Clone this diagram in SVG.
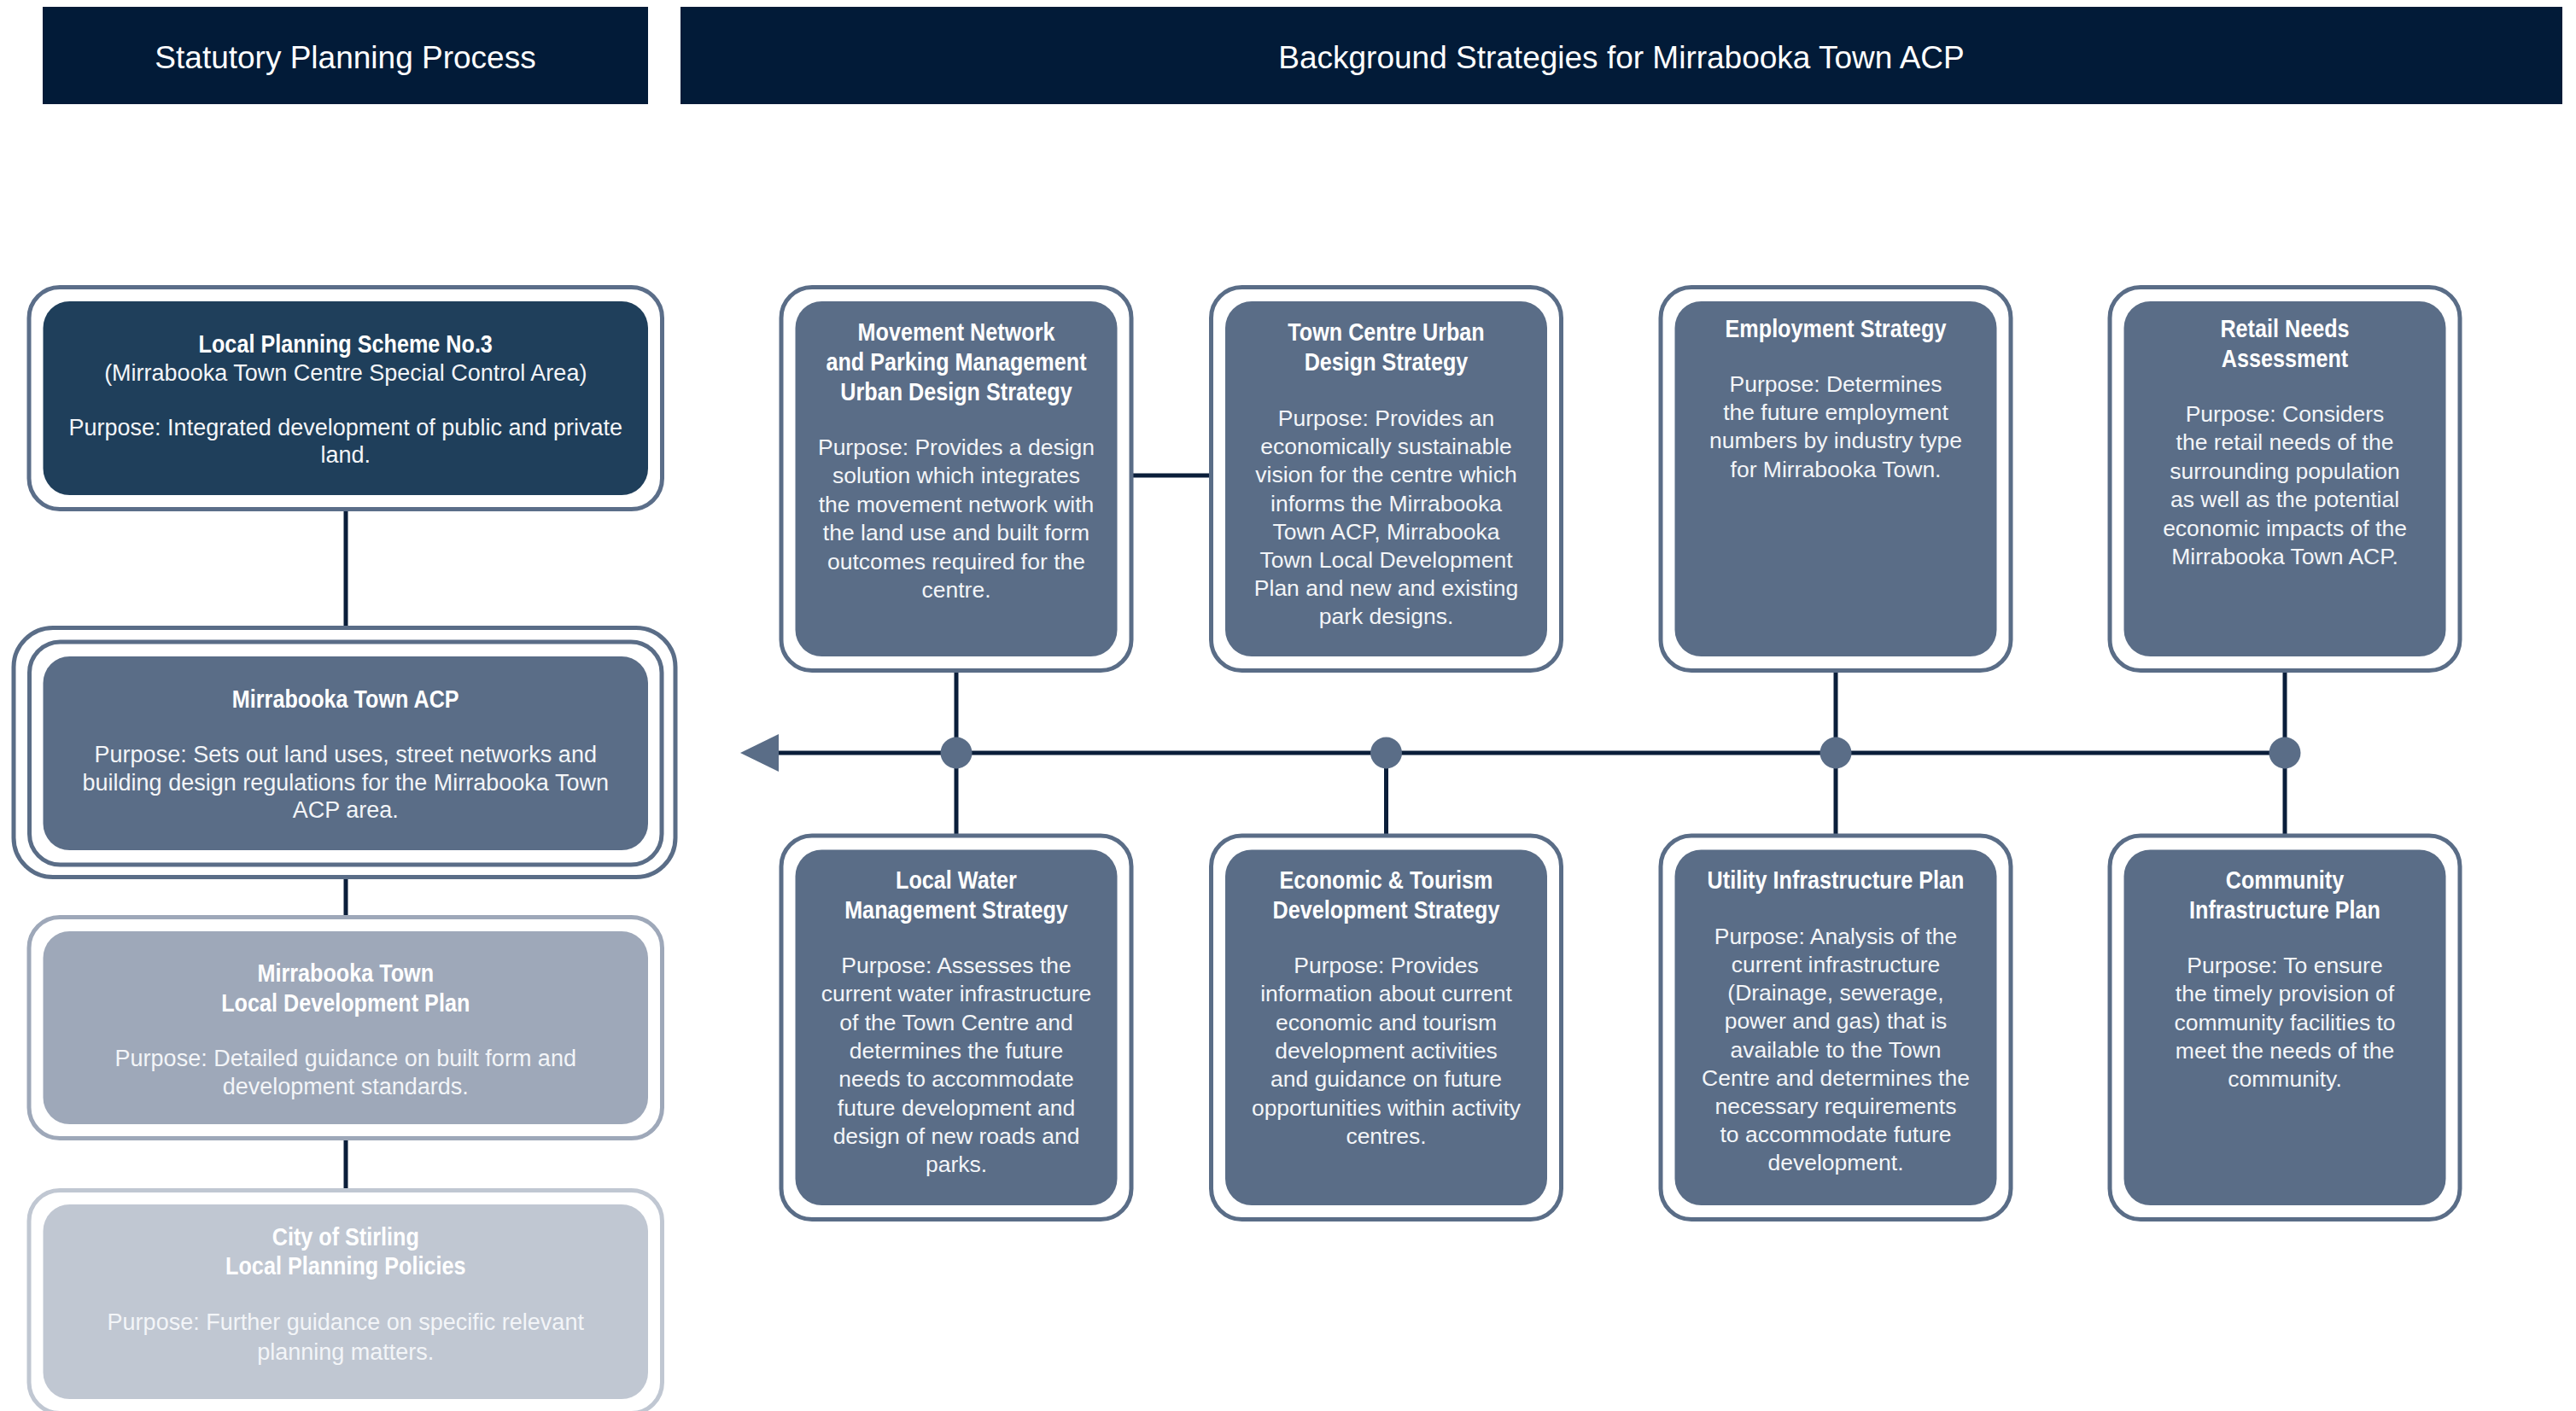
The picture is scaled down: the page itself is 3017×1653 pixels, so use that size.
<svg xmlns="http://www.w3.org/2000/svg" width="3017" height="1653" viewBox="0 0 3017 1653">
<style>
.bg{fill:#ffffff}
.hdr{fill:#021b38}
.ht{font-family:"Liberation Sans",Arial,sans-serif;font-size:37px;fill:#ffffff;text-anchor:middle}
.ring{fill:#ffffff;stroke-width:5}
.t{font-family:"Liberation Sans",Arial,sans-serif;font-weight:bold;font-size:30px;fill:#ffffff;text-anchor:middle}
.b{font-family:"Liberation Sans",Arial,sans-serif;font-size:26.5px;fill:#f3f5f8;text-anchor:middle}
.bl{font-size:27px}
.ln{stroke:#0a1e3a;stroke-width:5;fill:none}
.mark{fill:#5a6d87}
.dark{fill:#1f3f5b}
.mid{fill:#5a6d87}
.ldp{fill:#9ea8b9}
.pol{fill:#c0c7d2}
</style>
<rect class="bg" x="0" y="0" width="3017" height="1653"/>

<g id="header-statutory">
<rect class="hdr" x="50" y="8" width="709" height="114"/>
<text class="ht" x="404.5" y="80">Statutory Planning Process</text>
</g>
<g id="header-background">
<rect class="hdr" x="797" y="8" width="2204" height="114"/>
<text class="ht" x="1899" y="80">Background Strategies for Mirrabooka Town ACP</text>
</g>

<g id="connectors">
<line class="ln" x1="405" y1="597" x2="405" y2="736"/>
<line class="ln" x1="405" y1="1028" x2="405" y2="1074"/>
<line class="ln" x1="405" y1="1336" x2="405" y2="1394"/>
<line class="ln" x1="1325" y1="557" x2="1420" y2="557"/>
<line class="ln" x1="905" y1="882" x2="2676" y2="882"/>
<line class="ln" x1="1120" y1="786" x2="1120" y2="979"/>
<line class="ln" x1="1623.5" y1="882" x2="1623.5" y2="979"/>
<line class="ln" x1="2150" y1="786" x2="2150" y2="979"/>
<line class="ln" x1="2676" y1="786" x2="2676" y2="979"/>
<polygon class="mark" points="867,882 912,860 912,904"/>
<circle class="mark" cx="1120" cy="882" r="18.5"/>
<circle class="mark" cx="1623.5" cy="882" r="18.5"/>
<circle class="mark" cx="2150" cy="882" r="18.5"/>
<circle class="mark" cx="2676" cy="882" r="18.5"/>
</g>

<g id="node-lps">
<rect class="ring" x="34" y="336.5" width="741.5" height="260" rx="36" stroke="#5b6e89"/>
<rect class="dark" x="50.5" y="353" width="708.5" height="227" rx="31"/>
<g transform="translate(404.75,0)">
<g transform="scale(0.84,1)">
<text class="t" x="0" y="413">Local Planning Scheme No.3</text>
</g>
<text class="b bl" x="0" y="446">(Mirrabooka Town Centre Special Control Area)</text>
<text class="b bl" x="0" y="510">Purpose: Integrated development of public and private</text>
<text class="b bl" x="0" y="542">land.</text>
</g>
</g>

<g id="node-acp">
<rect class="ring" x="16" y="735.5" width="775" height="292" rx="46" stroke="#5a6d87" stroke-width="2.5"/>
<rect class="ring" x="34.5" y="752" width="740.5" height="261" rx="36" stroke="#5a6d87"/>
<rect class="mid" x="50.5" y="769" width="708.5" height="227" rx="31"/>
<g transform="translate(404.75,0)">
<g transform="scale(0.84,1)">
<text class="t" x="0" y="829">Mirrabooka Town ACP</text>
</g>
<text class="b bl" x="0" y="893">Purpose: Sets out land uses, street networks and</text>
<text class="b bl" x="0" y="926">building design regulations for the Mirrabooka Town</text>
<text class="b bl" x="0" y="958">ACP area.</text>
</g>
</g>

<g id="node-ldp">
<rect class="ring" x="34" y="1074.5" width="741.5" height="259" rx="36" stroke="#9ea8b9"/>
<rect class="ldp" x="50.5" y="1091" width="708.5" height="226" rx="31"/>
<g transform="translate(404.75,0)">
<g transform="scale(0.84,1)">
<text class="t" x="0" y="1150">Mirrabooka Town</text>
<text class="t" x="0" y="1185">Local Development Plan</text>
</g>
<text class="b bl" x="0" y="1249">Purpose: Detailed guidance on built form and</text>
<text class="b bl" x="0" y="1282">development standards.</text>
</g>
</g>

<g id="node-policies">
<rect class="ring" x="34" y="1394.5" width="741.5" height="261" rx="36" stroke="#c0c7d2"/>
<rect class="pol" x="50.5" y="1411" width="708.5" height="228" rx="31"/>
<g transform="translate(404.75,0)">
<g transform="scale(0.84,1)">
<text class="t" x="0" y="1459">City of Stirling</text>
<text class="t" x="0" y="1493">Local Planning Policies</text>
</g>
<text class="b bl" x="0" y="1558">Purpose: Further guidance on specific relevant</text>
<text class="b bl" x="0" y="1593">planning matters.</text>
</g>
</g>

<g id="node-movement">
<rect class="ring" x="915" y="336.5" width="410" height="449" rx="36" stroke="#5a6d87"/>
<rect class="mid" x="931.5" y="353" width="377" height="416" rx="31"/>
<g transform="translate(1120,0)">
<g transform="scale(0.84,1)">
<text class="t" x="0" y="399">Movement Network</text>
<text class="t" x="0" y="434">and Parking Management</text>
<text class="t" x="0" y="469">Urban Design Strategy</text>
</g>
<text class="b" x="0" y="533">Purpose: Provides a design</text>
<text class="b" x="0" y="566.4">solution which integrates</text>
<text class="b" x="0" y="599.8">the movement network with</text>
<text class="b" x="0" y="633.2">the land use and built form</text>
<text class="b" x="0" y="666.6">outcomes required for the</text>
<text class="b" x="0" y="700">centre.</text>
</g>
</g>

<g id="node-town-centre">
<rect class="ring" x="1418.5" y="336.5" width="410" height="449" rx="36" stroke="#5a6d87"/>
<rect class="mid" x="1435" y="353" width="377" height="416" rx="31"/>
<g transform="translate(1623.5,0)">
<g transform="scale(0.84,1)">
<text class="t" x="0" y="399">Town Centre Urban</text>
<text class="t" x="0" y="434">Design Strategy</text>
</g>
<text class="b" x="0" y="499">Purpose: Provides an</text>
<text class="b" x="0" y="532.2">economically sustainable</text>
<text class="b" x="0" y="565.4">vision for the centre which</text>
<text class="b" x="0" y="598.6">informs the Mirrabooka</text>
<text class="b" x="0" y="631.8">Town ACP, Mirrabooka</text>
<text class="b" x="0" y="665">Town Local Development</text>
<text class="b" x="0" y="698.2">Plan and new and existing</text>
<text class="b" x="0" y="731.4">park designs.</text>
</g>
</g>

<g id="node-employment">
<rect class="ring" x="1945" y="336.5" width="410" height="449" rx="36" stroke="#5a6d87"/>
<rect class="mid" x="1961.5" y="353" width="377" height="416" rx="31"/>
<g transform="translate(2150,0)">
<g transform="scale(0.84,1)">
<text class="t" x="0" y="395">Employment Strategy</text>
</g>
<text class="b" x="0" y="458.5">Purpose: Determines</text>
<text class="b" x="0" y="491.9">the future employment</text>
<text class="b" x="0" y="525.3">numbers by industry type</text>
<text class="b" x="0" y="558.7">for Mirrabooka Town.</text>
</g>
</g>

<g id="node-retail">
<rect class="ring" x="2471" y="336.5" width="410" height="449" rx="36" stroke="#5a6d87"/>
<rect class="mid" x="2487.5" y="353" width="377" height="416" rx="31"/>
<g transform="translate(2676,0)">
<g transform="scale(0.84,1)">
<text class="t" x="0" y="395">Retail Needs</text>
<text class="t" x="0" y="430">Assessment</text>
</g>
<text class="b" x="0" y="494">Purpose: Considers</text>
<text class="b" x="0" y="527.4">the retail needs of the</text>
<text class="b" x="0" y="560.8">surrounding population</text>
<text class="b" x="0" y="594.2">as well as the potential</text>
<text class="b" x="0" y="627.6">economic impacts of the</text>
<text class="b" x="0" y="661">Mirrabooka Town ACP.</text>
</g>
</g>

<g id="node-local-water">
<rect class="ring" x="915" y="979" width="410" height="449.5" rx="36" stroke="#5a6d87"/>
<rect class="mid" x="931.5" y="995.5" width="377" height="416.5" rx="31"/>
<g transform="translate(1120,0)">
<g transform="scale(0.84,1)">
<text class="t" x="0" y="1041">Local Water</text>
<text class="t" x="0" y="1076">Management Strategy</text>
</g>
<text class="b" x="0" y="1140">Purpose: Assesses the</text>
<text class="b" x="0" y="1173.3">current water infrastructure</text>
<text class="b" x="0" y="1206.6">of the Town Centre and</text>
<text class="b" x="0" y="1239.9">determines the future</text>
<text class="b" x="0" y="1273.2">needs to accommodate</text>
<text class="b" x="0" y="1306.5">future development and</text>
<text class="b" x="0" y="1339.8">design of new roads and</text>
<text class="b" x="0" y="1373.1">parks.</text>
</g>
</g>

<g id="node-economic">
<rect class="ring" x="1418.5" y="979" width="410" height="449.5" rx="36" stroke="#5a6d87"/>
<rect class="mid" x="1435" y="995.5" width="377" height="416.5" rx="31"/>
<g transform="translate(1623.5,0)">
<g transform="scale(0.84,1)">
<text class="t" x="0" y="1041">Economic &amp; Tourism</text>
<text class="t" x="0" y="1076">Development Strategy</text>
</g>
<text class="b" x="0" y="1140">Purpose: Provides</text>
<text class="b" x="0" y="1173.3">information about current</text>
<text class="b" x="0" y="1206.6">economic and tourism</text>
<text class="b" x="0" y="1239.9">development activities</text>
<text class="b" x="0" y="1273.2">and guidance on future</text>
<text class="b" x="0" y="1306.5">opportunities within activity</text>
<text class="b" x="0" y="1339.8">centres.</text>
</g>
</g>

<g id="node-utility">
<rect class="ring" x="1945" y="979" width="410" height="449.5" rx="36" stroke="#5a6d87"/>
<rect class="mid" x="1961.5" y="995.5" width="377" height="416.5" rx="31"/>
<g transform="translate(2150,0)">
<g transform="scale(0.84,1)">
<text class="t" x="0" y="1041">Utility Infrastructure Plan</text>
</g>
<text class="b" x="0" y="1105.7">Purpose: Analysis of the</text>
<text class="b" x="0" y="1138.9">current infrastructure</text>
<text class="b" x="0" y="1172.1">(Drainage, sewerage,</text>
<text class="b" x="0" y="1205.3">power and gas) that is</text>
<text class="b" x="0" y="1238.5">available to the Town</text>
<text class="b" x="0" y="1271.7">Centre and determines the</text>
<text class="b" x="0" y="1304.9">necessary requirements</text>
<text class="b" x="0" y="1338.1">to accommodate future</text>
<text class="b" x="0" y="1371.3">development.</text>
</g>
</g>

<g id="node-community">
<rect class="ring" x="2471" y="979" width="410" height="449.5" rx="36" stroke="#5a6d87"/>
<rect class="mid" x="2487.5" y="995.5" width="377" height="416.5" rx="31"/>
<g transform="translate(2676,0)">
<g transform="scale(0.84,1)">
<text class="t" x="0" y="1041">Community</text>
<text class="t" x="0" y="1076">Infrastructure Plan</text>
</g>
<text class="b" x="0" y="1140">Purpose: To ensure</text>
<text class="b" x="0" y="1173.3">the timely provision of</text>
<text class="b" x="0" y="1206.6">community facilities to</text>
<text class="b" x="0" y="1239.9">meet the needs of the</text>
<text class="b" x="0" y="1273.2">community.</text>
</g>
</g>
</svg>
